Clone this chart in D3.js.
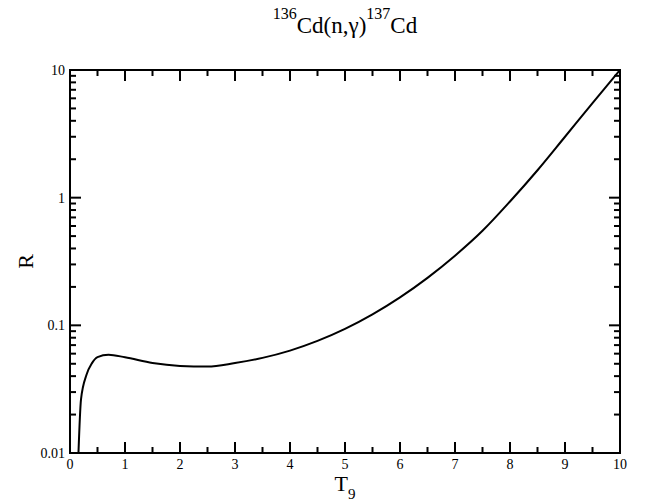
<!DOCTYPE html>
<html>
<head>
<meta charset="utf-8">
<script src="https://cdn.jsdelivr.net/npm/d3@7"></script>
<style>
  body { margin: 0; background: #fff; }
  text { font-family: "Liberation Serif", "DejaVu Serif", serif; fill: #000; }
</style>
</head>
<body>
<div id="chart"></div>
<script>
// temperature (T9) and ratio R
const t9 = [0.15, 0.2, 0.3, 0.4, 0.5, 0.7, 1.0, 1.5, 2.0, 2.5, 3.0, 3.5, 4.0, 4.5,
            5.0, 5.5, 6.0, 6.5, 7.0, 7.5, 8.0, 8.5, 9.0, 9.5, 10.0];
const ratio = [0.009, 0.0263, 0.041, 0.0506, 0.0564, 0.0588, 0.0562, 0.0507, 0.0481, 0.0475,
               0.0507, 0.0556, 0.0634, 0.0755, 0.0938, 0.1219, 0.1656, 0.2355, 0.351, 0.55,
               0.933, 1.64, 3.0, 5.5, 10.0];
const xTicks = [0, 1, 2, 3, 4, 5, 6, 7, 8, 9, 10];
const yTicks = [0.01, 0.1, 1, 10];
const yTickLabels = ["0.01", "0.1", "1", "10"];

const width = 648, height = 502;
const margin = {left: 70, right: 28, top: 70, bottom: 49};

const svg = d3.select("#chart").append("svg")
    .attr("width", width)
    .attr("height", height);

const x = d3.scaleLinear().domain([0, 10]).range([margin.left, width - margin.right]);
const y = d3.scaleLog().domain([0.01, 10]).range([height - margin.bottom, margin.top]);

// minor ticks
const xMinor = d3.range(0.5, 10, 1);
const yMinor = [];
[0.01, 0.1, 1].forEach(d => { for (let k = 2; k <= 9; k++) yMinor.push(d * k); });

svg.append("defs").append("clipPath").attr("id", "clip")
    .append("rect")
    .attr("x", x(0)).attr("y", y(10))
    .attr("width", x(10) - x(0)).attr("height", y(0.01) - y(10));

const line = d3.line()
    .x((d, i) => x(t9[i]))
    .y(d => y(d))
    .curve(d3.curveMonotoneX);

svg.append("path")
    .datum(ratio)
    .attr("clip-path", "url(#clip)")
    .attr("fill", "none")
    .attr("stroke", "#000")
    .attr("stroke-width", 2)
    .attr("d", line);

// ticks on all four sides, pointing inward
const x0 = x(0), x1 = x(10), y0 = y(0.01), y1 = y(10);
const ticks = svg.append("g");

function xTickLines(vals, len) {
    ticks.append("g").selectAll("line").data(vals).join("line")
        .attr("x1", d => x(d)).attr("x2", d => x(d))
        .attr("y1", y0).attr("y2", y0 - len)
        .attr("stroke", "#000").attr("stroke-width", 2);
    ticks.append("g").selectAll("line").data(vals).join("line")
        .attr("x1", d => x(d)).attr("x2", d => x(d))
        .attr("y1", y1).attr("y2", y1 + len)
        .attr("stroke", "#000").attr("stroke-width", 2);
}
function yTickLines(vals, len) {
    ticks.append("g").selectAll("line").data(vals).join("line")
        .attr("y1", d => y(d)).attr("y2", d => y(d))
        .attr("x1", x0).attr("x2", x0 + len)
        .attr("stroke", "#000").attr("stroke-width", 2);
    ticks.append("g").selectAll("line").data(vals).join("line")
        .attr("y1", d => y(d)).attr("y2", d => y(d))
        .attr("x1", x1).attr("x2", x1 - len)
        .attr("stroke", "#000").attr("stroke-width", 2);
}
xTickLines(xTicks, 11);
xTickLines(xMinor, 6);
yTickLines(yTicks, 11);
yTickLines(yMinor, 6);

svg.append("rect")
    .attr("x", x0).attr("y", y1)
    .attr("width", x1 - x0).attr("height", y0 - y1)
    .attr("fill", "none")
    .attr("stroke", "#000")
    .attr("stroke-width", 2);

// tick labels
svg.append("g").selectAll("text")
    .data(xTicks).join("text")
    .attr("x", d => x(d))
    .attr("y", y0 + 16)
    .attr("text-anchor", "middle")
    .attr("font-size", 14)
    .text(d => d);

svg.append("g").selectAll("text")
    .data(yTicks).join("text")
    .attr("x", x0 - 5)
    .attr("y", d => y(d) + 5)
    .attr("text-anchor", "end")
    .attr("font-size", 14)
    .text((d, i) => yTickLabels[i]);

// title
const title = svg.append("text")
    .attr("x", (x0 + x1) / 2)
    .attr("y", 33)
    .attr("text-anchor", "middle")
    .attr("font-size", 23);
title.append("tspan").attr("font-size", 16).attr("dy", -14).text("136");
title.append("tspan").attr("dy", 14).text("Cd(n,γ)");
title.append("tspan").attr("font-size", 16).attr("dy", -14).text("137");
title.append("tspan").attr("dy", 14).text("Cd");

// axis labels
const xl = svg.append("text")
    .attr("x", (x0 + x1) / 2)
    .attr("y", 491)
    .attr("text-anchor", "middle")
    .attr("font-size", 22);
xl.append("tspan").text("T");
xl.append("tspan").attr("font-size", 15).attr("dy", 8).text("9");

svg.append("text")
    .attr("transform", `translate(33,${(y0 + y1) / 2}) rotate(-90)`)
    .attr("text-anchor", "middle")
    .attr("font-size", 22)
    .text("R");
</script>
</body>
</html>
